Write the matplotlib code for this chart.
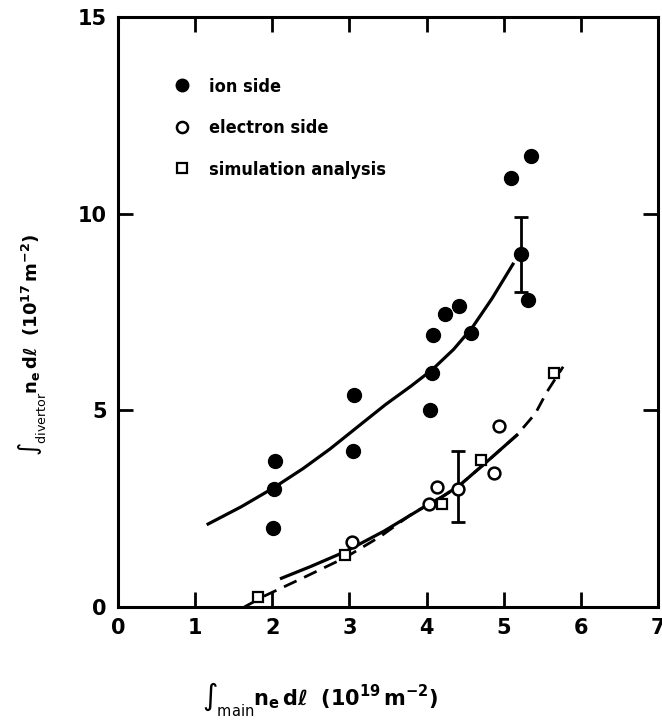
import matplotlib
matplotlib.use('Agg')
import matplotlib.pyplot as plt
from matplotlib.lines import Line2D

plt.rcParams['font.family'] = ['DejaVu Sans']
plt.rcParams['mathtext.fontset'] = 'dejavusans'
plt.rcParams['mathtext.default'] = 'bf'

# data
ion_x = [2.01, 2.02, 2.04, 3.05, 3.06, 4.04, 4.07, 4.08, 4.24, 4.42, 4.57, 5.23, 5.31, 5.10, 5.36]
ion_y = [2.01, 3.00, 3.72, 3.97, 5.38, 5.00, 5.95, 6.92, 7.46, 7.66, 6.97, 8.97, 7.81, 10.90, 11.46]

elec_x = [3.04, 4.03, 4.14, 4.41, 4.88, 4.94]
elec_y = [1.66, 2.61, 3.06, 2.99, 3.42, 4.60]

sim_x = [1.81, 2.95, 4.20, 4.70, 5.65]
sim_y = [0.26, 1.32, 2.63, 3.75, 5.95]

# error bars (x, y, lower, upper)
ion_err = (5.23, 8.97, 0.95, 0.95)
elec_err = (4.41, 2.99, 0.82, 0.98)

# fitted curves
ion_fit_x = [1.17, 1.6, 2.01, 2.4, 2.75, 3.1, 3.47, 3.8, 4.07, 4.35, 4.59, 4.85, 5.12]
ion_fit_y = [2.11, 2.55, 3.02, 3.52, 4.02, 4.57, 5.15, 5.62, 6.03, 6.55, 7.10, 7.85, 8.72]

elec_fit_x = [2.12, 2.5, 2.95, 3.45, 3.94, 4.20, 4.42, 4.75, 5.17]
elec_fit_y = [0.73, 1.03, 1.41, 1.93, 2.51, 2.80, 3.08, 3.64, 4.37]

sim_fit_x = [1.64, 1.90, 2.4, 2.95, 3.4, 3.82, 4.20, 4.42, 4.75, 5.17, 5.41, 5.56, 5.77]
sim_fit_y = [0.00, 0.28, 0.74, 1.26, 1.79, 2.38, 2.80, 3.08, 3.64, 4.37, 4.92, 5.47, 6.11]

fig = plt.figure(figsize=(6.62, 7.2), dpi=100)
ax = fig.add_axes([0.178, 0.157, 0.816, 0.819])

ax.plot(sim_fit_x, sim_fit_y, color='black', lw=2.0, ls=(0, (5, 3)))
ax.plot(ion_fit_x, ion_fit_y, color='black', lw=2.3)
ax.plot(elec_fit_x, elec_fit_y, color='black', lw=2.3)

for ex, ey, lo, hi in [ion_err, elec_err]:
    ax.errorbar([ex], [ey], yerr=[[lo], [hi]], fmt='none', ecolor='black',
                elinewidth=2, capsize=5, capthick=2)

ax.plot(ion_x, ion_y, 'o', color='black', ms=10, label='ion side')
ax.plot(elec_x, elec_y, 'o', mfc='white', mec='black', mew=1.8, ms=8.5, label='electron side')
ax.plot(sim_x, sim_y, 's', mfc='white', mec='black', mew=1.6, ms=7.5, label='simulation analysis')

ax.set_xlim(0, 7)
ax.set_ylim(0, 15)
ax.set_xticks(range(0, 8))
ax.set_yticks([0, 5, 10, 15])
ax.tick_params(direction='in', length=11, width=2, top=True, right=True,
               labelsize=15, pad=8)
for lbl in ax.get_xticklabels() + ax.get_yticklabels():
    lbl.set_fontweight('bold')
for sp in ax.spines.values():
    sp.set_linewidth(2.2)

handles = [
    Line2D([], [], ls='none', marker='o', color='black', ms=9),
    Line2D([], [], ls='none', marker='o', mfc='white', mec='black', mew=1.8, ms=8),
    Line2D([], [], ls='none', marker='s', mfc='white', mec='black', mew=1.6, ms=6.5),
]
ax.legend(handles, ['ion side', 'electron side', 'simulation analysis'],
          loc='upper left', bbox_to_anchor=(0.055, 0.925), frameon=False,
          handletextpad=0.5, labelspacing=1.3,
          prop={'size': 13, 'weight': 'bold', 'stretch': 'condensed'})

ax.set_xlabel(r'$\int_{\mathrm{main}} n_e\,d\ell$  $(10^{19}\,m^{-2})$', fontsize=15)
ax.xaxis.set_label_coords(0.375, -0.125)
ax.set_ylabel(r'$\int_{\mathrm{divertor}} n_e\,d\ell$  $(10^{17}\,m^{-2})$', fontsize=13)
ax.yaxis.set_label_coords(-0.13, 0.445)

fig.savefig('out.png', dpi=100)
